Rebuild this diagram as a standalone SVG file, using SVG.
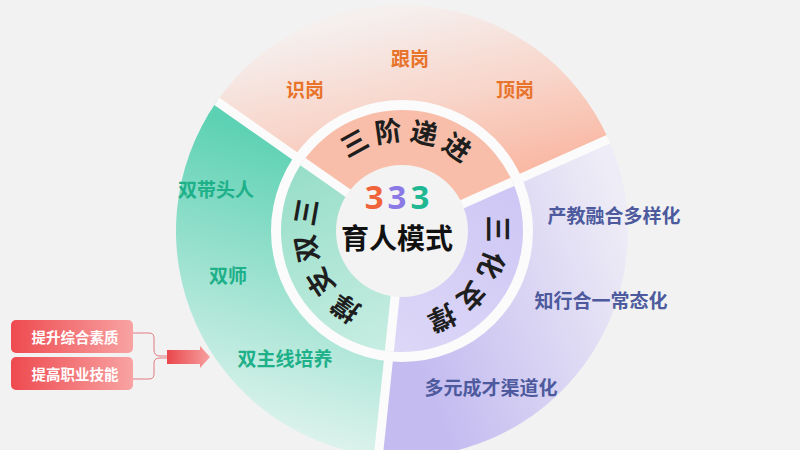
<svg xmlns="http://www.w3.org/2000/svg" width="800" height="450" viewBox="0 0 800 450">
  <defs>
    <linearGradient id="gPink" gradientUnits="userSpaceOnUse" x1="400" y1="10" x2="440" y2="190">
      <stop offset="0" stop-color="#f5efee"/>
      <stop offset="0.5" stop-color="#f8d6cb"/>
      <stop offset="1" stop-color="#f9b8a3"/>
    </linearGradient>
    <linearGradient id="gGreen" gradientUnits="userSpaceOnUse" x1="300" y1="140" x2="220" y2="430">
      <stop offset="0" stop-color="#5cd1b3"/>
      <stop offset="1" stop-color="#e2f4ef"/>
    </linearGradient>
    <linearGradient id="gPurple" gradientUnits="userSpaceOnUse" x1="400" y1="320" x2="630" y2="230">
      <stop offset="0" stop-color="#c4bbf0"/>
      <stop offset="1" stop-color="#eeecf6"/>
    </linearGradient>
    <linearGradient id="gGreenIn" gradientUnits="userSpaceOnUse" x1="300" y1="170" x2="380" y2="350">
      <stop offset="0" stop-color="#98dec9"/>
      <stop offset="1" stop-color="#c6ede2"/>
    </linearGradient>
    <linearGradient id="gPurpleIn" gradientUnits="userSpaceOnUse" x1="510" y1="190" x2="400" y2="350">
      <stop offset="0" stop-color="#cec7f5"/>
      <stop offset="1" stop-color="#dcd7f7"/>
    </linearGradient>
    <linearGradient id="gBtn" x1="0" y1="0" x2="1" y2="0">
      <stop offset="0" stop-color="#ee4a4f"/>
      <stop offset="1" stop-color="#f8a3a3"/>
    </linearGradient>
    <linearGradient id="gArrow" gradientUnits="userSpaceOnUse" x1="167" y1="0" x2="210" y2="0">
      <stop offset="0" stop-color="#e9474b"/>
      <stop offset="1" stop-color="#f7a0a0"/>
    </linearGradient>
    <style>
      .cjk { font-family: "Noto Sans CJK SC", "Noto Sans", sans-serif; font-weight: 700; }
      .ring { font-size: 27px; fill: #1e1e1e; text-anchor: middle; dominant-baseline: central; }
      .orange { font-size: 19px; fill: #e8732a; text-anchor: middle; dominant-baseline: central; }
      .teal { font-size: 19px; fill: #1db089; text-anchor: middle; dominant-baseline: central; }
      .slate { font-size: 19px; fill: #4d5a9d; text-anchor: middle; dominant-baseline: central; }
      .btnText { font-size: 14.5px; fill: #ffffff; text-anchor: middle; dominant-baseline: central; }
      .gap { stroke: #fbfbfb; stroke-width: 9; fill: none; }
    </style>
  </defs>

  <rect width="800" height="450" fill="#f2f2f2"/>

  <!-- outer sectors -->
  <g id="sector-pink">
    <path d="M216.87,101.37 A226,226 0 0 1 608.46,139.08 L517.11,179.75 A126,126 0 0 0 298.79,158.73 Z" fill="url(#gPink)"/>
  </g>
  <g id="sector-purple">
    <path d="M608.46,139.08 A226,226 0 0 1 378.38,455.76 L388.83,356.31 A126,126 0 0 0 517.11,179.75 Z" fill="url(#gPurple)"/>
  </g>
  <g id="sector-green">
    <path d="M378.38,455.76 A226,226 0 0 1 216.87,101.37 L298.79,158.73 A126,126 0 0 0 388.83,356.31 Z" fill="url(#gGreen)"/>
  </g>

  <!-- white gaps and ring -->
  <g id="gaps">
    <line class="gap" x1="402" y1="231" x2="216.87" y2="101.37"/>
    <line class="gap" x1="402" y1="231" x2="608.46" y2="139.08"/>
    <line class="gap" x1="402" y1="231" x2="378.38" y2="455.76"/>
    <circle cx="402" cy="231" r="126" fill="none" stroke="#fbfbfb" stroke-width="10"/>
  </g>

  <!-- inner band -->
  <g id="inner-pink">
    <path d="M402,231 L302.88,161.60 A121,121 0 0 1 512.54,181.78 Z" fill="#f9bea9"/>
  </g>
  <g id="inner-purple">
    <path d="M402,231 L512.54,181.78 A121,121 0 0 1 389.35,351.34 Z" fill="url(#gPurpleIn)"/>
  </g>
  <g id="inner-green">
    <path d="M402,231 L389.35,351.34 A121,121 0 0 1 302.88,161.60 Z" fill="url(#gGreenIn)"/>
  </g>
  <g id="inner-gaps">
    <line class="gap" stroke-width="8" x1="402" y1="231" x2="302.88" y2="161.60"/>
    <line class="gap" stroke-width="8" x1="402" y1="231" x2="512.54" y2="181.78"/>
    <line class="gap" stroke-width="8" x1="402" y1="231" x2="389.35" y2="351.34"/>
  </g>

  <!-- center -->
  <g id="center">
    <circle cx="402" cy="231" r="66" fill="#f3f3f3"/>
    <text x="399" y="209" font-family="'Noto Sans', 'Liberation Sans', sans-serif" font-weight="700" font-size="33" text-anchor="middle" letter-spacing="4"><tspan fill="#f0643c">3</tspan><tspan fill="#8b7ae6">3</tspan><tspan fill="#1fb892">3</tspan></text>
    <text class="cjk" x="397" y="249" font-size="28" fill="#111111" text-anchor="middle">育人模式</text>
  </g>

  <!-- inner ring labels -->
  <g id="label-sanjie" class="cjk ring">
    <text transform="translate(353.52,141.54) rotate(-29)">三</text>
    <text transform="translate(388.08,129.97) rotate(-8)">阶</text>
    <text transform="translate(424.50,131.56) rotate(13)">递</text>
    <text transform="translate(457.92,146.10) rotate(34)">进</text>
  </g>
  <g id="label-sanhua" class="cjk ring">
    <text transform="translate(499,229) rotate(90)">三</text>
    <text transform="translate(492.5,265.5) rotate(112)">化</text>
    <text transform="translate(472.5,297.5) rotate(134)">支</text>
    <text transform="translate(442.3,319.4) rotate(156)">撑</text>
  </g>
  <g id="label-sanshuang" class="cjk ring">
    <text transform="translate(304.5,211.8) rotate(-80)">三</text>
    <text transform="translate(305,248.7) rotate(-101.5)">双</text>
    <text transform="translate(319,283) rotate(-123)">支</text>
    <text transform="translate(344.5,309.6) rotate(-144.5)">撑</text>
  </g>

  <!-- outer labels -->
  <g id="pink-labels" class="cjk orange">
    <text x="305" y="88">识岗</text>
    <text x="410" y="57">跟岗</text>
    <text x="515" y="88">顶岗</text>
  </g>
  <g id="green-labels" class="cjk teal">
    <text x="216" y="188">双带头人</text>
    <text x="228" y="274">双师</text>
    <text x="285" y="357">双主线培养</text>
  </g>
  <g id="purple-labels" class="cjk slate">
    <text x="614" y="214">产教融合多样化</text>
    <text x="601" y="299">知行合一常态化</text>
    <text x="491" y="386">多元成才渠道化</text>
  </g>

  <!-- left buttons -->
  <g id="btn-1">
    <rect x="11" y="320" width="122" height="33" rx="5" fill="url(#gBtn)"/>
    <text class="cjk btnText" x="75" y="336">提升综合素质</text>
  </g>
  <g id="btn-2">
    <rect x="11" y="357" width="122" height="33" rx="5" fill="url(#gBtn)"/>
    <text class="cjk btnText" x="75" y="373">提高职业技能</text>
  </g>

  <g id="connectors">
    <path d="M133,333 H149 Q154,333 154,338 V350 Q154,356 160,356 H168" fill="none" stroke="#e27a80" stroke-width="1"/>
    <path d="M133,379 H149 Q154,379 154,374 V363 Q154,358 160,358 H168" fill="none" stroke="#e27a80" stroke-width="1"/>
    <path d="M167,350 H200 V346 L210,357 L200,368 V364 H167 Z" fill="url(#gArrow)"/>
  </g>
</svg>
